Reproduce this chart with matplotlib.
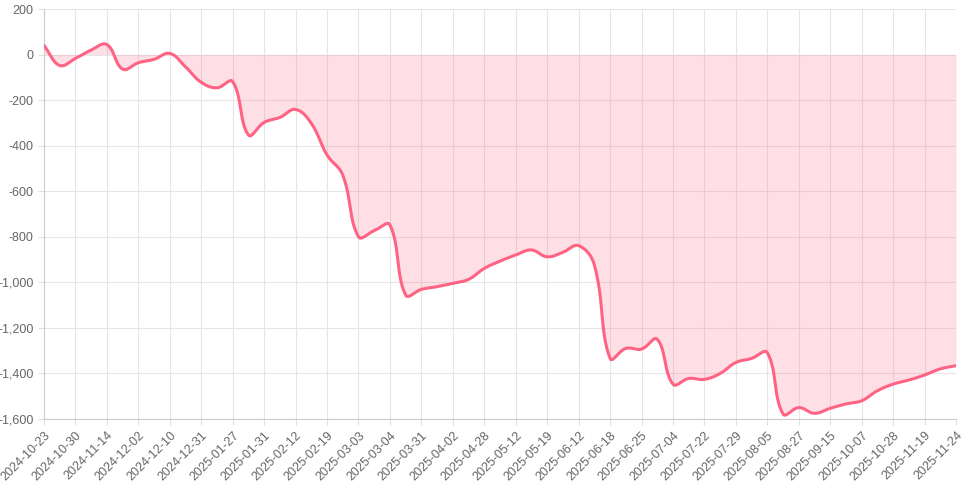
import numpy as np
import matplotlib
matplotlib.use("Agg")
import matplotlib.pyplot as plt
from matplotlib.ticker import FuncFormatter

# 日付 (表示されるのは偶数番目のみ)
dates = [
    "2024-10-23", "2024-10-25", "2024-10-30", "2024-11-06", "2024-11-14",
    "2024-11-21", "2024-12-02", "2024-12-05", "2024-12-10", "2024-12-18",
    "2024-12-31", "2025-01-14", "2025-01-27", "2025-01-29", "2025-01-31",
    "2025-02-05", "2025-02-12", "2025-02-14", "2025-02-19", "2025-02-26",
    "2025-03-03", "2025-03-03", "2025-03-04", "2025-03-12", "2025-03-31",
    "2025-04-01", "2025-04-02", "2025-04-15", "2025-04-28", "2025-05-06",
    "2025-05-12", "2025-05-15", "2025-05-19", "2025-06-03", "2025-06-12",
    "2025-06-16", "2025-06-18", "2025-06-20", "2025-06-25", "2025-06-30",
    "2025-07-04", "2025-07-15", "2025-07-22", "2025-07-25", "2025-07-29",
    "2025-08-01", "2025-08-05", "2025-08-15", "2025-08-27", "2025-09-04",
    "2025-09-15", "2025-09-26", "2025-10-07", "2025-10-16", "2025-10-28",
    "2025-11-07", "2025-11-19", "2025-11-21", "2025-11-24",
]

values = [
    40, -48, -17, 20, 44, -64, -36, -21, 5, -54,
    -122, -146, -119, -353, -298, -276, -241, -302, -441, -529,
    -800, -773, -748, -1056, -1031, -1019, -1004, -987, -939, -907,
    -880, -858, -888, -868, -839, -924, -1334, -1290, -1293, -1250,
    -1447, -1422, -1426, -1400, -1352, -1334, -1309, -1578, -1550, -1575,
    -1553, -1534, -1520, -1476, -1447, -1429, -1407, -1380, -1366,
]

y_min, y_max = -1600, 200
line_color = "#ff6384"
fill_color = (1.0, 99 / 255, 132 / 255, 0.2)

W, H = 969, 484
L, R, T, B = 44, 956, 9, 419


def smooth_curve(xv, yv, tension=0.4, steps=24):
    # Chart.js 風のベジェ曲線 (ピクセル空間で制御点を計算)
    sx = (R - L) / (len(xv) - 1)
    sy = (B - T) / (y_max - y_min)
    px = np.asarray(xv, float) * sx
    py = np.asarray(yv, float) * sy
    n = len(px)
    cp_prev = np.zeros((n, 2))
    cp_next = np.zeros((n, 2))
    for i in range(n):
        p0 = (px[max(i - 1, 0)], py[max(i - 1, 0)])
        p1 = (px[i], py[i])
        p2 = (px[min(i + 1, n - 1)], py[min(i + 1, n - 1)])
        d01 = np.hypot(p1[0] - p0[0], p1[1] - p0[1])
        d12 = np.hypot(p2[0] - p1[0], p2[1] - p1[1])
        tot = d01 + d12
        s01 = d01 / tot if tot else 0
        s12 = d12 / tot if tot else 0
        fa, fb = tension * s01, tension * s12
        cp_prev[i] = (p1[0] - fa * (p2[0] - p0[0]), p1[1] - fa * (p2[1] - p0[1]))
        cp_next[i] = (p1[0] + fb * (p2[0] - p0[0]), p1[1] + fb * (p2[1] - p0[1]))
    lo, hi = y_min * sy, y_max * sy
    cp_prev[:, 1] = np.clip(cp_prev[:, 1], lo, hi)
    cp_next[:, 1] = np.clip(cp_next[:, 1], lo, hi)
    xs, ys = [px[0]], [py[0]]
    t = np.linspace(0, 1, steps)[1:]
    for i in range(n - 1):
        a = np.array([px[i], py[i]])
        b = cp_next[i]
        c = cp_prev[i + 1]
        d = np.array([px[i + 1], py[i + 1]])
        pts = ((1 - t) ** 3)[:, None] * a + (3 * (1 - t) ** 2 * t)[:, None] * b \
            + (3 * (1 - t) * t ** 2)[:, None] * c + (t ** 3)[:, None] * d
        xs.extend(pts[:, 0])
        ys.extend(pts[:, 1])
    return np.array(xs) / sx, np.array(ys) / sy


plt.rcParams["font.family"] = ["Liberation Sans", "DejaVu Sans"]

fig = plt.figure(figsize=(W / 100, H / 100), dpi=100)
ax = fig.add_axes([L / W, 1 - B / H, (R - L) / W, (B - T) / H])

idx = np.arange(len(values))
cx, cy = smooth_curve(idx, values)
ax.fill_between(cx, cy, 0, color=fill_color, linewidth=0, zorder=2)
ax.plot(cx, cy, color=line_color, linewidth=2.2, solid_capstyle="round", zorder=3)

ax.set_xlim(0, len(values) - 1)
ax.set_ylim(y_min, y_max)

ax.set_xticks(idx[::2])
ax.set_xticklabels(dates[::2], rotation=45, ha="right", rotation_mode="anchor")
ax.set_yticks(np.arange(y_min, y_max + 1, 200))
ax.yaxis.set_major_formatter(FuncFormatter(lambda v, p: f"{v:,.0f}"))

ax.grid(True, color="#e6e6e6", linewidth=0.8, zorder=1)
ax.set_axisbelow(True)
ax.tick_params(axis="both", colors="#e0e0e0", labelcolor="#666666",
               labelsize=9, length=4.5, width=0.8)
ax.tick_params(axis="x", pad=3)
ax.tick_params(axis="y", pad=3)
for side in ["top", "right"]:
    ax.spines[side].set_visible(False)
for side in ["left", "bottom"]:
    ax.spines[side].set_color("#cccccc")
    ax.spines[side].set_linewidth(0.8)

fig.savefig("out.png", dpi=100)
